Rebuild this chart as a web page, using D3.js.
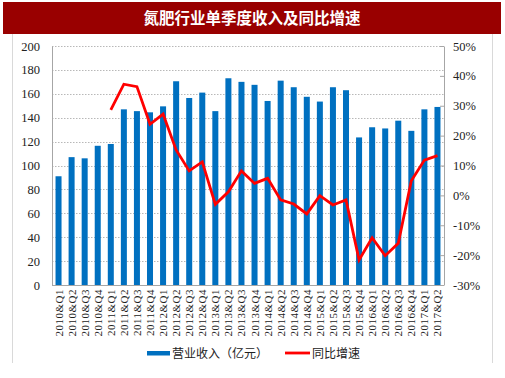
<!DOCTYPE html>
<html><head><meta charset="utf-8">
<script src="https://cdn.jsdelivr.net/npm/d3@7"></script>
<style>body{margin:0;background:#fff;}svg{display:block;}</style>
</head><body>
<svg id="c" width="505" height="378"></svg>
<script>
const title = "氮肥行业单季度收入及同比增速";
const quarters = ["2010&Q1","2010&Q2","2010&Q3","2010&Q4","2011&Q1","2011&Q2","2011&Q3","2011&Q4","2012&Q1","2012&Q2","2012&Q3","2012&Q4","2013&Q1","2013&Q2","2013&Q3","2013&Q4","2014&Q1","2014&Q2","2014&Q3","2014&Q4","2015&Q1","2015&Q2","2015&Q3","2015&Q4","2016&Q1","2016&Q2","2016&Q3","2016&Q4","2017&Q1","2017&Q2"];
const revenue = [91,107,106,116.5,118,147,145.5,144.5,149.5,170.5,156.5,161,145.5,173,170,167.5,154,171,165.5,157.5,153.5,165.5,163,123.5,132,131,137.5,129,147,149];
const growth = [null,null,null,null,28.6,37.2,36.4,23.8,27.2,15.2,8.2,11.2,-3.0,1.2,8.2,4.0,5.7,-1.5,-2.9,-6.2,-0.1,-3.2,-1.5,-21.6,-14.2,-20.2,-16.0,4.9,11.8,13.3];
const leftTicks = [0,20,40,60,80,100,120,140,160,180,200];
const rightTicks = [-30,-20,-10,0,10,20,30,40,50];
const legendLabels = ["营业收入（亿元）","同比增速"];

const svg = d3.select("#c");
const L=52,R=444,T=46,B=285;
const serif = "'Liberation Serif','DejaVu Serif',serif";
const cjk = "'Noto Sans CJK SC',sans-serif";

// title bar
svg.append("rect").attr("x",3).attr("y",2).attr("width",498).attr("height",32).attr("fill","#990000");
svg.append("text").attr("x",252).attr("y",23.5).attr("text-anchor","middle").attr("fill","#fff")
  .attr("font-family",cjk).attr("font-weight","bold").attr("font-size",15.5).text(title);
// outer frame sides
svg.append("line").attr("x1",12.5).attr("x2",12.5).attr("y1",34).attr("y2",363).attr("stroke","#d9d9d9");
svg.append("line").attr("x1",492.5).attr("x2",492.5).attr("y1",34).attr("y2",363).attr("stroke","#d9d9d9");

const x = d3.scaleBand().domain(quarters).range([L,R]).paddingInner(0.54).paddingOuter(0.27);
const y = d3.scaleLinear().domain([0,200]).range([B,T]);
const y2 = d3.scaleLinear().domain([-30,50]).range([B,T]);

// grid
svg.append("g").selectAll("line").data(leftTicks.filter(d=>d>0)).join("line")
  .attr("x1",L).attr("x2",R).attr("y1",d=>Math.round(y(d))+0.5).attr("y2",d=>Math.round(y(d))+0.5)
  .attr("stroke","#a6a6a6").attr("stroke-dasharray","1.5,1.5").attr("stroke-width",0.8);

// bars
svg.append("g").selectAll("rect").data(revenue).join("rect")
  .attr("x",(d,i)=>x(quarters[i])).attr("width",x.bandwidth())
  .attr("y",d=>y(d)).attr("height",d=>B-y(d)).attr("fill","#0070c0");

// axes
const gl = svg.append("g").attr("transform",`translate(${L},0)`).call(d3.axisLeft(y).tickValues(leftTicks).tickSize(0).tickPadding(12));
gl.select(".domain").attr("stroke","#a6a6a6");
gl.selectAll("text").attr("font-family",serif).attr("font-size",12.5).attr("fill","#222");
const gr = svg.append("g").attr("transform",`translate(${R},0)`).call(d3.axisRight(y2).tickValues(rightTicks).tickSize(0).tickPadding(9).tickFormat(d=>d+"%"));
gr.select(".domain").attr("stroke","#a6a6a6");
gr.selectAll("text").attr("font-family",serif).attr("font-size",12.5).attr("fill","#222");
gr.selectAll(".tick").append("line").attr("x1",-4).attr("x2",0).attr("stroke","#a6a6a6");
svg.append("line").attr("x1",L).attr("x2",R).attr("y1",B+0.5).attr("y2",B+0.5).attr("stroke","#a6a6a6");

// x labels
svg.append("g").selectAll("text").data(quarters).join("text")
  .attr("transform",d=>`translate(${x(d)+x.bandwidth()/2+4},${B+4}) rotate(-90)`)
  .attr("text-anchor","end").attr("font-family",serif).attr("font-size",11).attr("letter-spacing",0.5).attr("fill","#222").text(d=>d);

// line
const line = d3.line().defined(d=>d!=null).x((d,i)=>x(quarters[i])+x.bandwidth()/2).y(d=>y2(d));
svg.append("path").datum(growth).attr("d",line).attr("fill","none").attr("stroke","#ff0000").attr("stroke-width",2.8).attr("stroke-linejoin","miter");

// legend
svg.append("rect").attr("x",147).attr("y",351).attr("width",23).attr("height",4.5).attr("fill","#0070c0");
svg.append("text").attr("x",172).attr("y",357.5).attr("font-family",cjk).attr("font-size",12).attr("fill","#222").text(legendLabels[0]);
svg.append("line").attr("x1",285).attr("x2",310).attr("y1",353).attr("y2",353).attr("stroke","#ff0000").attr("stroke-width",2.8);
svg.append("text").attr("x",312).attr("y",357.5).attr("font-family",cjk).attr("font-size",12).attr("fill","#222").text(legendLabels[1]);
</script>
</body></html>
